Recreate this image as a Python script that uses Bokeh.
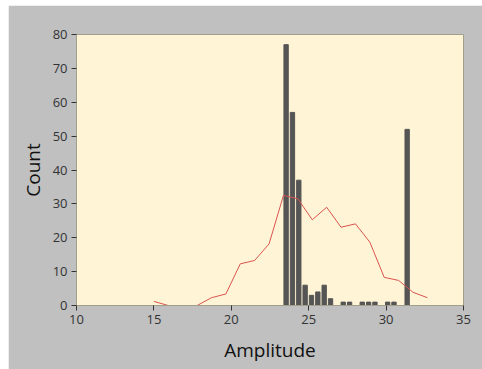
from bokeh.plotting import figure
from bokeh.models import Range1d, FixedTicker, Spacer
from bokeh.layouts import column, row
from bokeh.embed import file_html
from bokeh.resources import INLINE

# Histogram bins (centers) and counts
bin_centers = [23.54, 23.95, 24.36, 24.77, 25.18, 25.59, 26.00, 26.41, 26.82, 27.23,
               27.64, 28.05, 28.46, 28.87, 29.28, 29.69, 30.10, 30.51, 30.92, 31.36]
counts = [77, 57, 37, 6, 3, 4, 6, 2, 0, 1,
          1, 0, 1, 1, 1, 0, 1, 1, 0, 52]

# Reference curve
curve_x = [15.00, 15.93, 16.86, 17.79, 18.72, 19.65, 20.58, 21.51, 22.44, 23.37,
           24.30, 25.23, 26.16, 27.09, 28.02, 28.95, 29.88, 30.81, 31.74, 32.67]
curve_y = [1.2, 0, 0, 0, 2.3, 3.4, 12.3, 13.3, 18.2, 32.5,
           31.5, 25.3, 29, 23.1, 24.1, 18.7, 8.3, 7.4, 3.9, 2.3]

x_ticks = [10, 15, 20, 25, 30, 35]
y_ticks = [0, 10, 20, 30, 40, 50, 60, 70, 80]

p = figure(width=474, height=364, output_backend="svg", toolbar_location=None,
           x_range=Range1d(10, 35), y_range=Range1d(0, 80),
           min_border_left=68, min_border_right=19, min_border_top=29, min_border_bottom=64)

p.background_fill_color = "#fff5d6"
p.border_fill_color = "#c0c0c0"
p.outline_line_color = "#a09f8c"
p.grid.visible = False

p.vbar(x=bin_centers, top=counts, bottom=0, width=0.28,
       fill_color="#555555", line_color="#555555", line_width=1)
p.line(curve_x, curve_y, line_color="#d9534f", line_width=1)

font = "Open Sans"
for ax in (p.xaxis[0], p.yaxis[0]):
    ax.minor_tick_line_color = None
    ax.major_tick_in = 0
    ax.major_tick_out = 5
    ax.major_tick_line_color = "#333333"
    ax.axis_line_color = "#a09f8c"
    ax.major_label_text_font = font
    ax.major_label_text_font_size = "13px"
    ax.major_label_text_color = "#333333"
    ax.axis_label_text_font = font
    ax.axis_label_text_font_size = "19px"
    ax.axis_label_text_font_style = "normal"
    ax.axis_label_text_color = "#111111"

p.xaxis.ticker = FixedTicker(ticks=x_ticks)
p.yaxis.ticker = FixedTicker(ticks=y_ticks)
p.xaxis.axis_label = "Amplitude"
p.yaxis.axis_label = "Count"
p.xaxis.major_label_standoff = 4
p.yaxis.major_label_standoff = 4
p.xaxis.axis_label_standoff = 10
p.yaxis.axis_label_standoff = 4

layout = column(Spacer(height=5, width=482),
                row(Spacer(width=8, height=364), p))

open("out.html", "w").write(file_html(layout, INLINE))
